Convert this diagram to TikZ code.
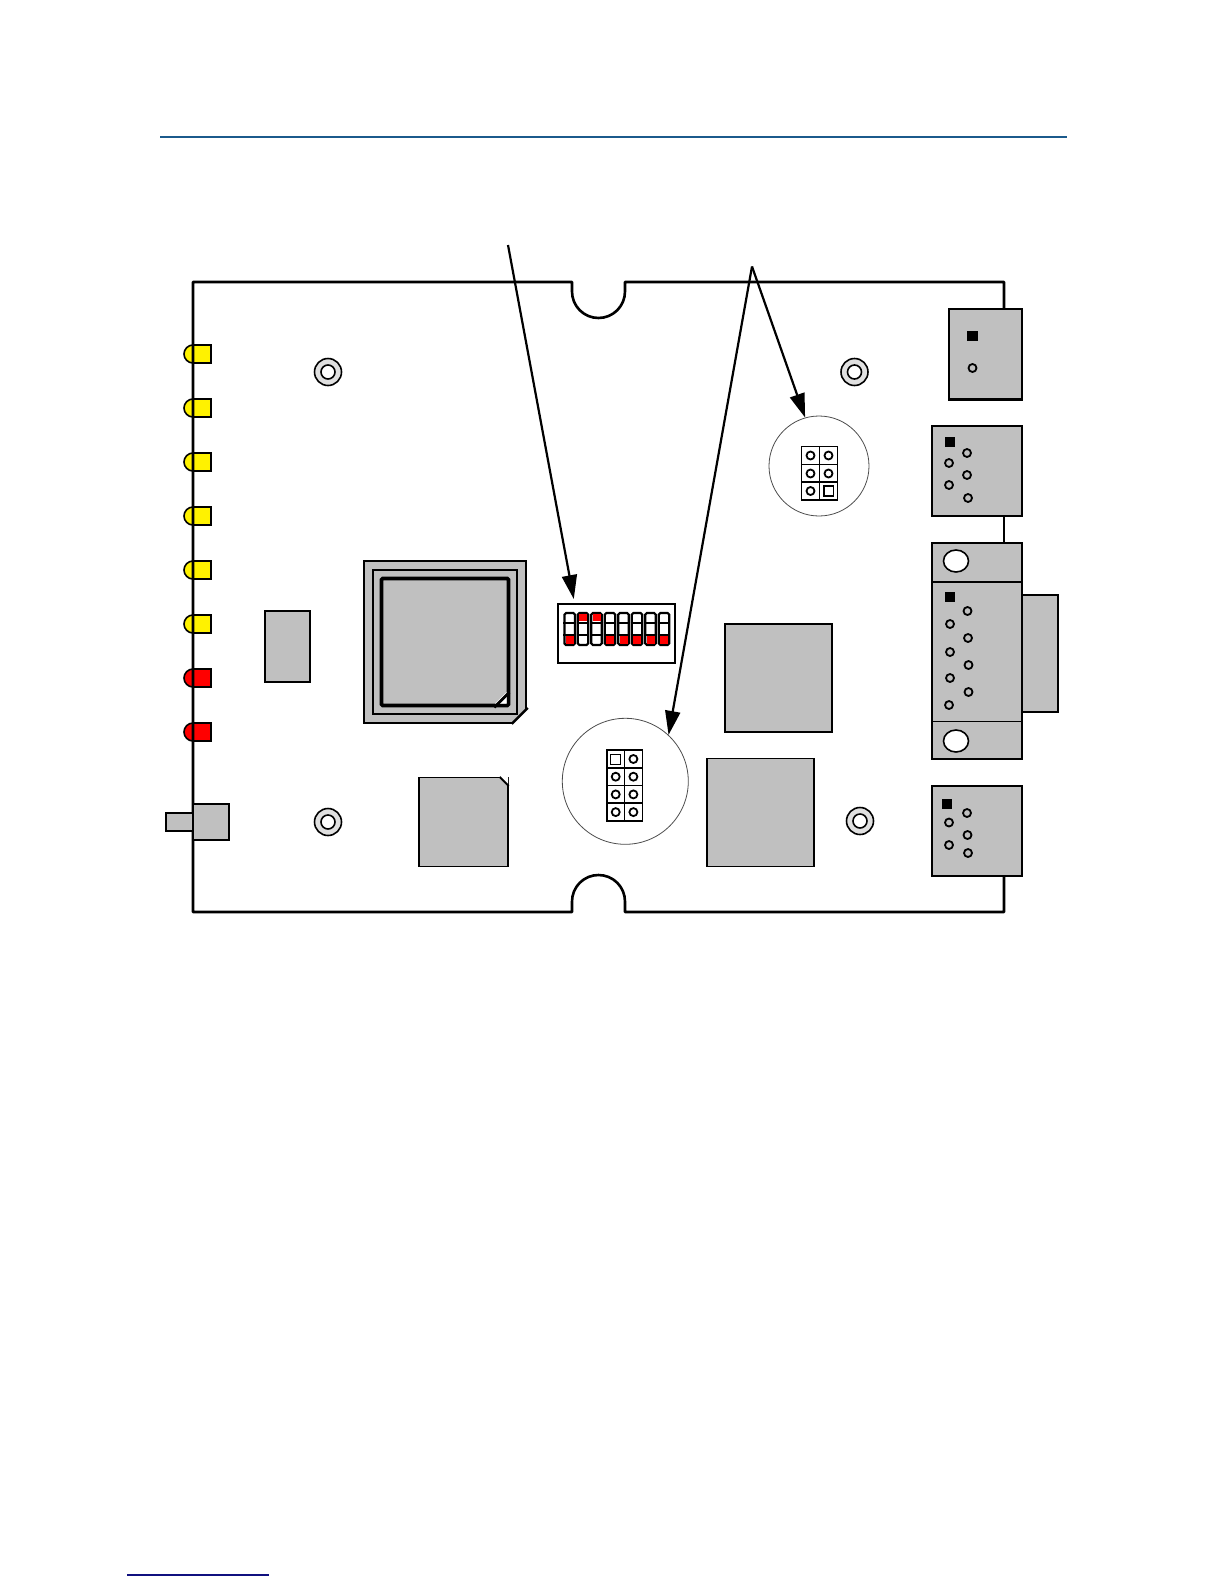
\documentclass[tikz,border=0pt]{standalone}
\usepackage{tikz}
\usetikzlibrary{arrows.meta, shapes.misc, shapes.geometric}

\definecolor{partgray}{HTML}{C0C0C0}
\definecolor{holegray}{HTML}{E0E0E0}
\definecolor{rulefront}{HTML}{1B5A8C}
\definecolor{rulefoot}{HTML}{10107F}

\begin{document}
\begin{tikzpicture}[
    x = 0.5bp,
    y = -0.5bp,
    thick,
    size/.style 2 args = {minimum width = {#1*0.5bp},
      minimum height = {#2*0.5bp}},
    part/.style = {rectangle, draw, fill = partgray, inner sep = 0},
    chip/.style = {part, line width = 0.65pt},
    socket/.style = {part, line width = 0.9pt},
    led/.style = {rounded rectangle, rounded rectangle east arc = none,
      draw, inner sep = 0, size = {27}{18}},
    standoff/.style = {circle, draw, fill = holegray, inner sep = 0,
      minimum size = {13.5bp}},
    bore/.style = {circle, draw, fill = white, inner sep = 0,
      minimum size = {7bp}},
    pin/.style = {circle, draw, line width = 0.9pt, inner sep = 0,
      minimum size = {4bp}},
    pinone/.style = {rectangle, fill = black, inner sep = 0,
      minimum size = {5.2bp}},
    lens/.style = {circle, draw = black!70, line width = 0.4pt, fill = white,
      inner sep = 0},
    cell/.style = {rectangle, draw, inner sep = 0, minimum size = {8.9bp}},
    slider/.style = {rectangle, rounded corners = 0.8bp, draw,
      line width = 1.1pt, fill = white, inner sep = 0, size = {10.5}{32}},
    lit/.style = {rectangle, fill = red, inner sep = 0, minimum width = {4bp},
      minimum height = {3.6bp}},
    pointer/.style = {line width = 1.1bp, -{Triangle[length = 12bp, width = 7.5bp]}},
    ]

    \useasboundingbox (0, 0) rectangle (1224, 1584);

    \coordinate (front_l) at (160, 137);
    \coordinate (front_r) at (1067, 137);
    \draw [rulefront, line width = 1bp] (front_l) -- (front_r);

    \coordinate (foot_l) at (127, 1575);
    \coordinate (foot_r) at (269, 1575);
    \draw [rulefoot, line width = 0.6bp] (foot_l) -- (foot_r);

    % leds sit under the board edge
    \foreach \y/\c [count = \i] in {354/yellow, 408/yellow, 462/yellow,
      516/yellow, 570/yellow, 624/yellow, 678/red, 732/red}
    \node at (197.5, \y) [led, fill = \c, name = D\i] {};

    % connectors
    \node at (985.5, 354) [socket, size = {73}{90}, name = J1] {};
    \draw [line width = 1.3bp] (J1.south west) -- (J1.south east);
    \node at (977, 471) [socket, size = {90}{90}, name = J2] {};
    \node at (1040, 653.5) [socket, size = {36}{117}, name = J3b] {};
    \node at (977, 651) [socket, size = {90}{216}, name = J3] {};
    \node at (977, 831) [socket, size = {90}{90}, name = J4] {};

    % board outline, broken where the connectors overhang
    \coordinate (edge) at (1004, 282);
    \draw [line width = 1.3bp, line join = round]
    (J1.north -| edge) -- (edge) -- (625, 282) -- (625, 291.5)
    arc [start angle = 0, end angle = -180, radius = 13.25bp]
    -- (572, 282) -- (193, 282) -- (193, 912) -- (572, 912) -- (572, 901.5)
    arc [start angle = 180, end angle = 0, radius = 13.25bp]
    -- (625, 912) -- (1004, 912) -- (J4.south -| edge);
    \draw [line width = 1.15bp] (J2.south -| edge) -- (J3.north -| edge);

    \draw [line width = 1bp] (J3.west |- 0, 582) -- (J3.east |- 0, 582);
    \draw [line width = 0.5bp] (J3.west |- 0, 721) -- (J3.east |- 0, 721);
    \node at (956, 561) [ellipse, draw, fill = white, inner sep = 0,
      minimum width = {12.5bp}, minimum height = {11bp}, name = J3t] {};
    \node at (956, 741) [ellipse, draw, fill = white, inner sep = 0,
      minimum width = {12.5bp}, minimum height = {11bp}, name = J3u] {};

    \node at (972.5, 336) [pinone, name = J1a] {};
    \node at (972.5, 368) [pin, name = J1c] {};

    \node at (950, 442) [pinone, name = J2a] {};
    \foreach \x/\y [count = \i] in {967/453, 949/463, 967/475, 949/485, 968/498}
    \node at (\x, \y) [pin, name = J2p\i] {};

    \node at (950, 597) [pinone, name = J3a] {};
    \foreach \x/\y [count = \i] in {967.5/611, 950/624, 968/638, 950/652,
      968.5/665, 950/678, 968.5/692, 949/705}
    \node at (\x, \y) [pin, name = J3p\i] {};

    \node at (947, 804) [pinone, name = J4a] {};
    \foreach \x/\y [count = \i] in {967/813, 949/822.5, 967.5/835, 949/845, 968/853}
    \node at (\x, \y) [pin, name = J4p\i] {};

    % reset button
    \node at (179.5, 822) [part, size = {27}{18}, name = S1p] {};
    \node at (211, 822) [part, size = {36}{36}, name = S1] {};

    % standoffs
    \foreach \x/\y [count = \i] in {328/372, 854.5/372, 328/822, 860/821} {
      \node at (\x, \y) [standoff, name = H\i] {};
      \node at (\x, \y) [bore, name = H\i b] {};
    }

    % devices
    \node at (287.5, 646.5) [chip, size = {45}{71}, name = U1] {};

    \node at (445, 642) [chip, line width = 0.8pt, size = {162}{162}, name = U2] {};
    \node at (445, 642) [chip, size = {144}{144}, name = U2m] {};
    \node at (445, 642) [chip, line width = 1.8pt, rounded corners = 0.6bp,
      size = {127}{127}, name = U2i] {};
    \fill [white] (495, 703.7) -- (506.7, 703.7) -- (506.7, 692) -- cycle;
    \draw [line width = 1.4bp] (U2i.south east) ++(-16, 0) -- ++(15, -15);
    \fill [white] (511, 725) -- (529, 725) -- (529, 707) -- cycle;
    \draw [line width = 1.2bp] (U2.south east) ++(-15, 0) -- ++(16, -16);

    \node at (463.5, 822) [chip, size = {89}{89}, name = U3] {};
    \fill [white] (499, 776.5) -- (508, 776.5) -- (508, 785.5) -- cycle;
    \draw [line width = 1bp] (U3.north east) ++(-9, 0) -- ++(9, 9);

    \node at (778.5, 678) [chip, size = {107}{108}, name = U4] {};
    \node at (760.5, 812.5) [chip, size = {107}{108}, name = U5] {};

    % dip switch
    \node at (616.5, 633.5) [rectangle, draw, line width = 1bp, fill = white,
      inner sep = 0, size = {117}{59}, name = SW] {};
    \foreach \x/\r [count = \i] in {569.7/640, 583/617.5, 596.5/617.5,
      610/640, 623.5/640, 637/640, 650.5/640, 664/640} {
      \node at (\x, 629) [slider, name = SW\i] {};
      \draw [line width = 0.9bp] (SW\i.west |- 0, 623) -- (SW\i.east |- 0, 623);
      \draw [line width = 0.9bp] (SW\i.west |- 0, 635) -- (SW\i.east |- 0, 635);
      \node at (\x, \r) [lit, name = SW\i r] {};
    }

    % jumper views
    \node at (625.3, 781.3) [lens, minimum size = {63bp}, name = JP1] {};
    \foreach \y [count = \i] in {759, 776.7, 794.4, 812.1} {
      \node at (615.7, \y) [cell, name = JP1l\i] {};
      \node at (633.4, \y) [cell, name = JP1r\i] {};
      \node at (633.4, \y) [pin, name = JP1s\i] {};
      \ifnum \i > 1
        \node at (615.7, \y) [pin, name = JP1t\i] {};
      \fi
    }
    \node at (615.7, 759) [rectangle, draw, line width = 0.5bp, inner sep = 0,
      minimum size = {5bp}, name = JP1a] {};

    \node at (819, 466) [lens, minimum size = {50bp}, name = JP2] {};
    \foreach \y [count = \i] in {455.5, 473.5, 491} {
      \node at (810.5, \y) [cell, name = JP2l\i] {};
      \node at (828.5, \y) [cell, name = JP2r\i] {};
      \node at (810.5, \y) [pin, name = JP2s\i] {};
      \ifnum \i < 3
        \node at (828.5, \y) [pin, name = JP2t\i] {};
      \fi
    }
    \node at (828.5, 491) [rectangle, draw, inner sep = 0,
      minimum size = {4.8bp}, name = JP2a] {};

    % call-outs
    \coordinate (call_sw) at (508, 245);
    \coordinate (call_jp) at (752, 266.5);
    \draw [pointer, shorten > = 2bp] (call_sw) -- (SW.144);
    \draw [pointer] (call_jp) -- (JP2.106);
    \draw [pointer] (call_jp) -- (JP1.47);
  \end{tikzpicture}
\end{document}
